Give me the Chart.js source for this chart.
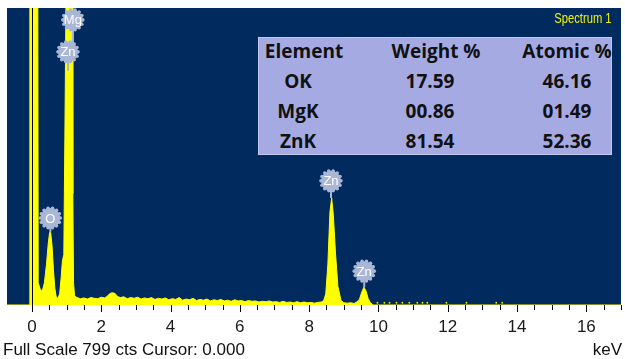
<!DOCTYPE html>
<html>
<head>
<meta charset="utf-8">
<script src="https://cdn.jsdelivr.net/npm/chart.js@4.4.1/dist/chart.umd.min.js"></script>
<style>
  body { margin: 0; background: #ffffff; }
  #wrap { position: relative; width: 625px; height: 359px; overflow: hidden; }
  #spectrum-chart { position: absolute; left: 0; top: 0; }
  .caption { position: absolute; font-family: "Liberation Sans", Arial, sans-serif; font-size: 17px; color: #111; white-space: nowrap; }
  #spectrum-name { position: absolute; right: 13px; top: 10px; font-family: "Liberation Sans", Arial, sans-serif; font-size: 14px;
                   color: #f2f200; transform: scaleX(0.8); transform-origin: right center; }
  #quant { position: absolute; left: 258px; top: 37px; width: 354px; height: 118px; background: #a5aae3;
           box-shadow: inset 0 0 0 1px #c4c8ef; }
  #quant table { border-collapse: collapse; width: 100%; font-family: "Open Sans", sans-serif; font-weight: 700; font-size: 19px; color: #111; }
  #quant td { height: 30px; padding: 0; text-align: center; line-height: 19px; }
  #quant tr:first-child td { height: 29px; }
  #quant td.el { padding-right: 12px; }
</style>
</head>
<body>
<div id="wrap">
  <canvas id="spectrum-chart" width="625" height="359"></canvas>
  <div id="spectrum-name">Spectrum 1</div>
  <div id="quant">
    <table id="quant-table"></table>
  </div>
  <div class="caption" style="left:3px; top:340px;">Full Scale 799 cts Cursor: 0.000</div>
  <div class="caption" style="right:3px; top:340px;">keV</div>
</div>
<script>
// Espectro (keV, cuentas)
const energias = [
  -0.72, -0.07, -0.06, 0.16, 0.18, 0.24, 0.30, 0.36, 0.42, 0.47, 0.51, 0.54, 0.58, 0.62, 0.66, 0.70,
  0.75, 0.80, 0.84, 0.88, 0.92, 0.95, 0.99, 1.03, 1.13, 1.16, 1.18, 1.20, 1.23,
  1.30, 1.40, 1.50, 1.60, 1.70, 1.80, 1.90, 2.00, 2.10, 2.18, 2.25, 2.32, 2.40, 2.47, 2.55, 2.65,
  2.75, 2.85, 2.95, 3.05, 3.15, 3.25, 3.35, 3.45, 3.55, 3.65, 3.75, 3.85, 3.95, 4.05, 4.15, 4.25,
  4.35, 4.45, 4.55, 4.65, 4.75, 4.85, 4.95, 5.05, 5.15, 5.25, 5.35, 5.45, 5.55, 5.65, 5.75, 5.85,
  5.95, 6.05, 6.15, 6.25, 6.35, 6.45, 6.55, 6.65, 6.75, 6.85, 6.95, 7.05, 7.15, 7.25, 7.35, 7.45,
  7.55, 7.65, 7.75, 7.85, 7.95, 8.05, 8.15, 8.25, 8.35, 8.42, 8.48, 8.54, 8.60, 8.65, 8.70, 8.76,
  8.83, 8.92, 9.00, 9.10, 9.20, 9.30, 9.37, 9.45, 9.52, 9.58, 9.64, 9.70, 9.77, 9.85, 17.0
];
const cuentas = [
  0, 0, 1500, 1500, 60, 42, 38, 60, 110, 165, 195, 196, 160, 95, 45, 22,
  18, 30, 70, 120, 135, 450, 900, 3000, 3000, 900, 300, 60, 25,
  20, 17, 19, 16, 20, 18, 17, 21, 19, 24, 31, 33, 31, 23, 20, 22,
  17, 20, 18, 21, 16, 19, 17, 20, 15, 18, 16, 19, 14, 17, 15, 20,
  13, 16, 14, 18, 12, 15, 13, 16, 11, 14, 12, 15, 11, 13, 10, 14,
  11, 12, 9, 12, 10, 11, 8, 10, 9, 11, 8, 9, 7, 10, 7, 8,
  6, 9, 6, 8, 6, 7, 5, 7, 8, 12, 30, 110, 250, 288, 240, 140,
  50, 12, 6, 5, 6, 4, 8, 15, 35, 48, 38, 18, 6, 0, 0
];

// Puntos sueltos después de 10 keV
const puntosEnergia = [9.97, 10.17, 10.32, 10.52, 10.69, 10.89, 11.12, 11.27, 11.41, 11.96, 12.54, 13.40, 13.57];
const puntosCuentas = [6, 6, 6, 6, 6, 6, 6, 6, 6, 6, 6, 6, 6];

// Etiquetas de picos
const picosNombre = ['Mg', 'Zn', 'O', 'Zn', 'Zn'];
const picosEnergia = [1.18, 1.04, 0.53, 8.63, 9.59];
const picosAltura = [767, 681, 234, 334, 91];   // centro de la burbuja (cuentas)
const picosCima = [700, 630, 196, 288, 48];      // donde termina la línea

// Ejes
const FULL_SCALE = 799;
const etiquetasX = [0, 2, 4, 6, 8, 10, 12, 14, 16];

// Tabla de cuantificación
const elementos = ['OK', 'MgK', 'ZnK'];
const pesoPct = ['17.59', '00.86', '81.54'];
const atomicoPct = ['46.16', '01.49', '52.36'];

// Construir tabla
const tabla = document.getElementById('quant-table');
let html = '<tr><td style="width:92px">Element</td><td style="width:172px">Weight %</td><td>Atomic %</td></tr>';
elementos.forEach((el, i) => {
    html += `<tr><td class="el">${el}</td><td style="padding-right:12px">${pesoPct[i]}</td><td>${atomicoPct[i]}</td></tr>`;
});
tabla.innerHTML = html;

const fondo = {
    id: 'fondo',
    beforeDraw(chart) {
        const { ctx, chartArea } = chart;
        ctx.save();
        ctx.fillStyle = '#ffffff';
        ctx.fillRect(0, 0, chart.width, chart.height);
        ctx.fillStyle = '#012b5e';
        ctx.fillRect(chartArea.left, chartArea.top, chartArea.right - chartArea.left, chartArea.bottom - chartArea.top);
        ctx.restore();
    }
};

function burbuja(ctx, cx, cy) {
    ctx.beginPath();
    ctx.arc(cx, cy, 10, 0, Math.PI * 2);
    ctx.fill();
    for (let k = 0; k < 14; k++) {
        const a = k * Math.PI * 2 / 14;
        ctx.beginPath();
        ctx.arc(cx + Math.cos(a) * 10, cy + Math.sin(a) * 10, 1.8, 0, Math.PI * 2);
        ctx.fill();
    }
}

const marcas = {
    id: 'marcas',
    afterDatasetsDraw(chart) {
        const { ctx, chartArea } = chart;
        const x = chart.scales.x;
        const y = chart.scales.y;
        ctx.save();

        // línea del cero
        const x0 = Math.round(x.getPixelForValue(0)) + 0.5;
        ctx.strokeStyle = '#000000';
        ctx.lineWidth = 1;
        ctx.beginPath();
        ctx.moveTo(x0, chartArea.top);
        ctx.lineTo(x0, chartArea.bottom + 7);
        ctx.stroke();

        // marcas del eje cada 0.5 keV
        for (let v = 0; v <= 17; v += 0.5) {
            const px = Math.round(x.getPixelForValue(v)) + 0.5;
            const largo = etiquetasX.includes(v) ? 7 : 5;
            ctx.beginPath();
            ctx.moveTo(px, chartArea.bottom);
            ctx.lineTo(px, chartArea.bottom + largo);
            ctx.stroke();
        }

        // burbujas de los picos
        picosNombre.forEach((nombre, i) => {
            const cx = x.getPixelForValue(picosEnergia[i]);
            const cy = y.getPixelForValue(picosAltura[i]);
            const fin = y.getPixelForValue(picosCima[i]);
            ctx.strokeStyle = '#a9b6d6';
            ctx.lineWidth = 2;
            ctx.beginPath();
            ctx.moveTo(cx, cy + 9);
            ctx.lineTo(cx, fin);
            ctx.stroke();
            ctx.fillStyle = '#a9b6d6';
            burbuja(ctx, cx, cy);
            ctx.fillStyle = '#ffffff';
            ctx.font = '13px "Liberation Sans", Arial, sans-serif';
            ctx.textAlign = 'center';
            ctx.textBaseline = 'middle';
            ctx.fillText(nombre, cx, cy + 1);
        });
        ctx.restore();
    }
};

const ctx = document.getElementById('spectrum-chart');
const chart = new Chart(ctx, {
    type: 'line',
    data: {
        datasets: [{
            label: 'Spectrum 1',
            data: energias.map((e, i) => ({ x: e, y: cuentas[i] })),
            borderColor: '#ffff00',
            backgroundColor: '#ffff00',
            borderWidth: 1,
            pointRadius: 0,
            tension: 0,
            fill: 'origin'
        }, {
            type: 'scatter',
            label: 'puntos',
            data: puntosEnergia.map((e, i) => ({ x: e, y: puntosCuentas[i] })),
            backgroundColor: '#e8e800',
            borderWidth: 0,
            pointRadius: 0.9
        }]
    },
    options: {
        responsive: false,
        animation: false,
        layout: {
            padding: { left: 7, right: 3, top: 8, bottom: 0 }
        },
        plugins: {
            legend: { display: false },
            tooltip: { enabled: false }
        },
        scales: {
            x: {
                type: 'linear',
                min: -0.72,
                max: 17,
                afterBuildTicks: (scale) => {
                    scale.ticks = etiquetasX.map(v => ({ value: v }));
                },
                afterFit: (scale) => {
                    scale.height = 54;
                },
                ticks: {
                    autoSkip: false,
                    maxRotation: 0,
                    padding: 6,
                    color: '#1a1a1a',
                    font: { family: 'Liberation Sans', size: 17 }
                },
                grid: { display: false, drawTicks: true, tickLength: 6 },
                border: { display: false }
            },
            y: {
                display: false,
                min: 0,
                max: FULL_SCALE
            }
        }
    },
    plugins: [fondo, marcas]
});
</script>
</body>
</html>
